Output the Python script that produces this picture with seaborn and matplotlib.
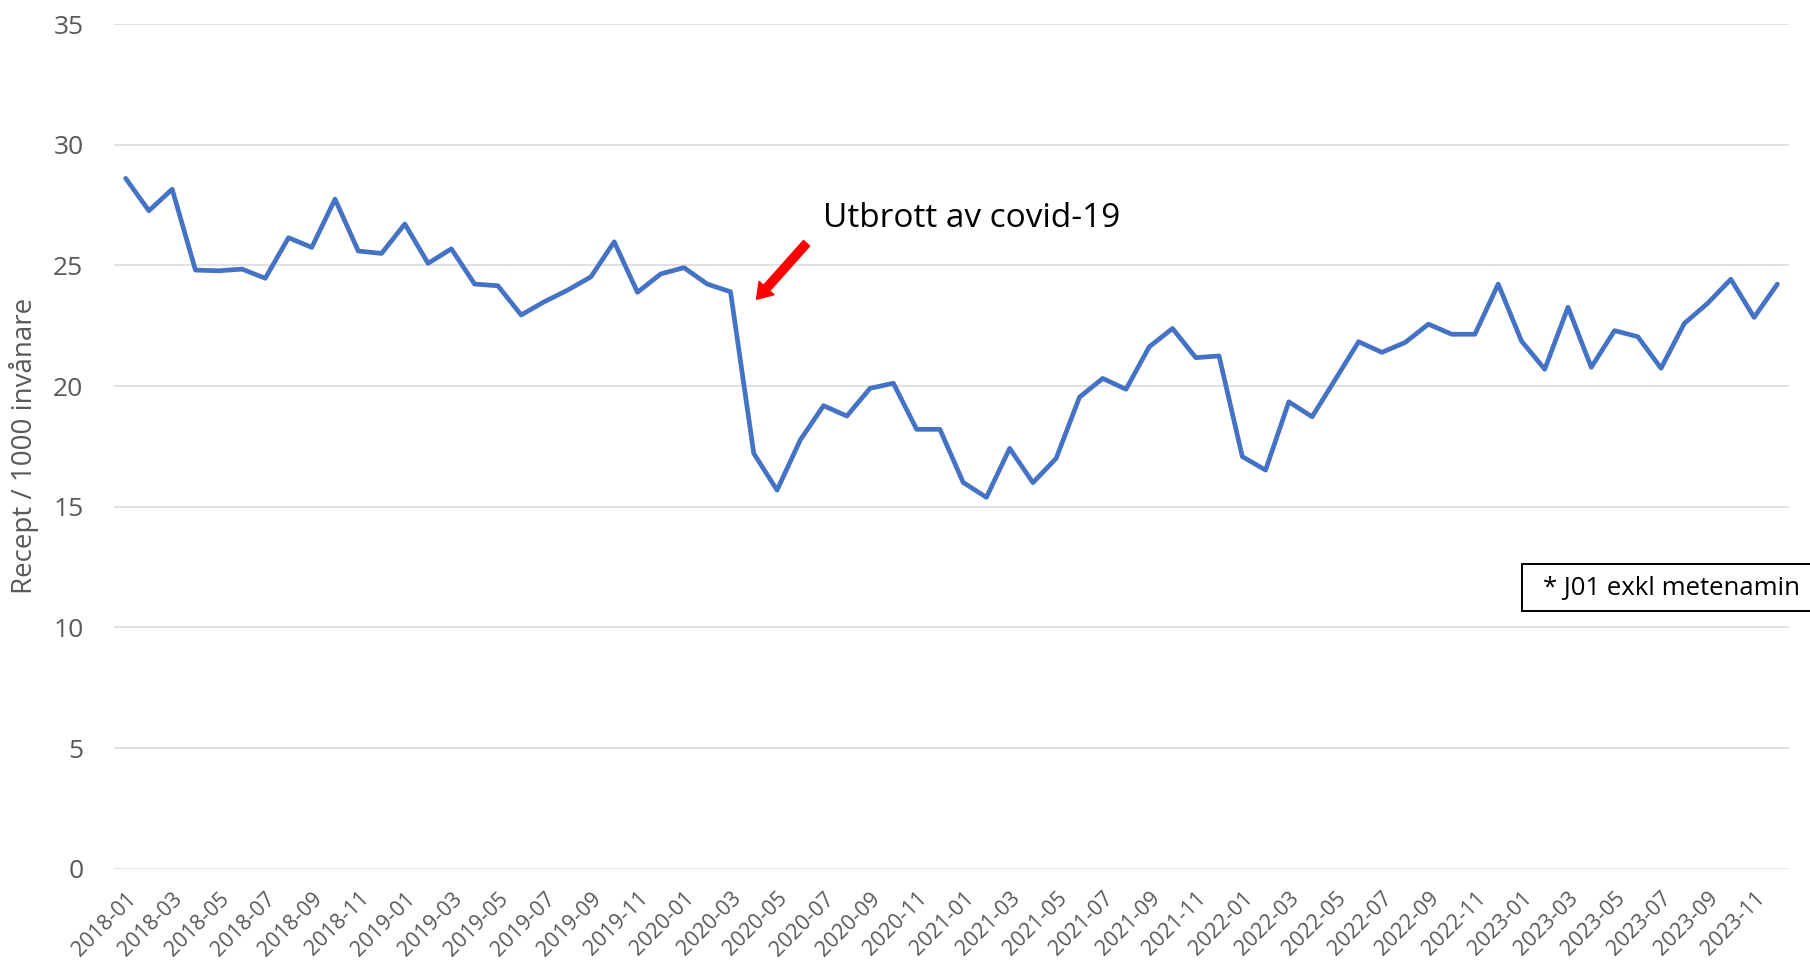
import numpy as np
import pandas as pd
import matplotlib
matplotlib.use("Agg")
import matplotlib.pyplot as plt
import seaborn as sns
from matplotlib.patches import Rectangle

# monthly prescriptions per 1000 inhabitants, 2018-01 .. 2023-12
months = [str(p) for p in pd.period_range("2018-01", "2023-12", freq="M")]
values_2018 = [28.61, 27.27, 28.16, 24.81, 24.78, 24.85, 24.47, 26.15, 25.75, 27.75, 25.60, 25.50]
values_2019 = [26.72, 25.09, 25.69, 24.23, 24.16, 22.95, 23.50, 23.98, 24.53, 25.98, 23.89, 24.65]
values_2020 = [24.91, 24.23, 23.91, 17.21, 15.69, 17.77, 19.19, 18.76, 19.91, 20.12, 18.21, 18.21]
values_2021 = [16.01, 15.39, 17.42, 16.00, 17.01, 19.54, 20.32, 19.87, 21.63, 22.39, 21.18, 21.25]
values_2022 = [17.08, 16.52, 19.35, 18.73, 20.28, 21.84, 21.40, 21.81, 22.57, 22.15, 22.15, 24.23]
values_2023 = [21.87, 20.70, 23.27, 20.78, 22.30, 22.05, 20.74, 22.60, 23.43, 24.43, 22.85, 24.23]
values = values_2018 + values_2019 + values_2020 + values_2021 + values_2022 + values_2023

y_ticks = [0, 5, 10, 15, 20, 25, 30, 35]
y_label = "Recept / 1000 invånare"
note_text = "Utbrott av covid-19"
box_text = "* J01 exkl metenamin"

df = pd.DataFrame({"month": months, "pos": np.arange(len(months)), "value": values})

sns.set_theme(style="white")
plt.rcParams["font.family"] = ["Open Sans", "DejaVu Sans"]

fig = plt.figure(figsize=(18.1, 9.6), dpi=100)
ax = fig.add_axes([0.063, 0.0951, 0.9254, 0.8797])

sns.lineplot(data=df, x="pos", y="value", color="#4472C4", linewidth=3.4, ax=ax)

ax.set_xlim(-0.5, len(months) - 0.5)
ax.set_ylim(0, 35)
ax.set_yticks(y_ticks)
ax.yaxis.grid(True, color="#D9D9D9", linewidth=1.1)
ax.xaxis.grid(False)
for s in ax.spines.values():
    s.set_visible(False)

ax.tick_params(axis="y", length=0, pad=22, labelsize=19, labelcolor="#595959")
ax.set_xticks(df["pos"][::2])
ax.set_xticklabels(df["month"][::2], rotation=45, ha="right", rotation_mode="anchor")
ax.tick_params(axis="x", length=0, pad=14, labelsize=15.5, labelcolor="#595959")
ax.set_xlabel("")
ax.set_ylabel("")

fig.text(24 / 1810, 1 - 446 / 960, y_label, rotation=90, ha="center", va="center",
         fontsize=20, color="#595959")

# arrow + label for covid outbreak
ax.annotate("", xy=(27.12, 23.6), xytext=(29.27, 25.92),
            arrowprops=dict(arrowstyle="simple,head_width=1.2,head_length=0.9,tail_width=0.5",
                            color="red", shrinkA=0, shrinkB=0))
ax.text(29.97, 26.6, note_text, ha="left", va="baseline", fontsize=24, color="black")

# footnote box, cut off at the right edge like the original
fig.patches.append(Rectangle((1522 / 1810, 1 - 611 / 960), 300 / 1810, 47 / 960,
                             transform=fig.transFigure, facecolor="white",
                             edgecolor="black", linewidth=1.4))
fig.text(1543 / 1810, 1 - 588 / 960, box_text, ha="left", va="center", fontsize=18.5, color="black")

fig.savefig("out.png", dpi=100)
